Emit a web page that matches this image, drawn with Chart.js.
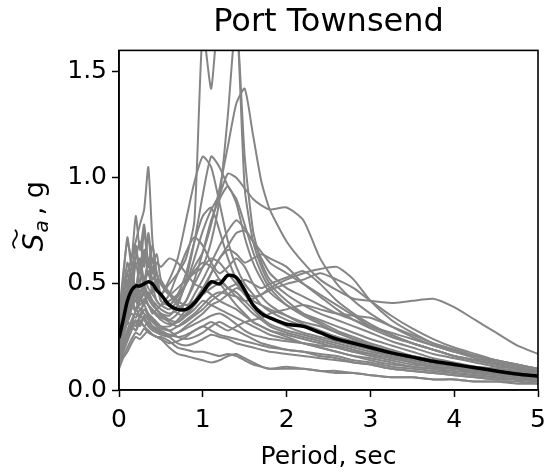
<!DOCTYPE html>
<html>
<head>
<meta charset="utf-8">
<script src="https://cdn.jsdelivr.net/npm/chart.js@4/dist/chart.umd.min.js"></script>
<style>
html,body{margin:0;padding:0;background:#fff;}
#wrap{width:548px;height:472px;}
</style>
</head>
<body>
<div id="wrap"><canvas id="c" width="548" height="472"></canvas></div>
<script>
// Periods (sec) shared by every spectrum
const periods = [0,0.05,0.1,0.15,0.2,0.25,0.3,0.35,0.4,0.45,0.5,0.6,0.7,0.8,0.9,1.0,1.1,1.2,1.3,1.4,1.5,1.6,1.7,1.8,2.0,2.2,2.4,2.6,2.8,3.0,3.25,3.5,3.75,4.0,4.25,4.5,4.75,5.0];

// Individual ground-motion spectra (Sa, g)
const rec01 = [0.22,0.34,0.42,0.52,0.44,0.58,0.48,0.62,0.52,0.55,0.45,0.50,0.55,0.62,0.80,1.70,1.42,1.85,1.95,1.80,0.95,0.70,0.58,0.50,0.42,0.36,0.32,0.28,0.25,0.22,0.19,0.16,0.14,0.12,0.10,0.09,0.08,0.07];
const rec02 = [0.18,0.25,0.32,0.30,0.38,0.35,0.42,0.40,0.36,0.38,0.40,0.42,0.45,0.50,0.58,0.65,0.78,0.95,1.15,1.35,1.42,1.20,0.98,0.85,0.70,0.60,0.52,0.47,0.43,0.42,0.41,0.42,0.43,0.39,0.33,0.27,0.21,0.17];
const rec03 = [0.20,0.28,0.35,0.42,0.38,0.45,0.50,0.44,0.48,0.42,0.40,0.38,0.42,0.50,0.62,0.75,0.85,0.92,1.02,1.00,0.95,0.90,0.87,0.85,0.86,0.80,0.62,0.50,0.42,0.36,0.30,0.25,0.21,0.18,0.15,0.13,0.11,0.09];
const rec04 = [0.25,0.38,0.52,0.44,0.60,0.50,0.66,0.54,0.58,0.48,0.45,0.52,0.62,0.80,0.98,1.10,1.05,0.88,0.70,0.58,0.50,0.45,0.40,0.37,0.33,0.30,0.27,0.25,0.22,0.20,0.17,0.15,0.13,0.11,0.10,0.09,0.08,0.07];
const rec05 = [0.20,0.28,0.36,0.42,0.48,0.44,0.40,0.46,0.42,0.38,0.36,0.35,0.40,0.52,0.70,0.92,1.10,1.05,0.96,0.90,0.78,0.65,0.55,0.48,0.40,0.35,0.31,0.27,0.24,0.21,0.18,0.15,0.13,0.11,0.10,0.08,0.07,0.06];
const rec06 = [0.30,0.45,0.55,0.62,0.70,0.78,0.85,1.05,0.70,0.55,0.50,0.45,0.40,0.38,0.40,0.45,0.48,0.50,0.45,0.40,0.36,0.32,0.30,0.28,0.25,0.22,0.20,0.18,0.16,0.14,0.12,0.11,0.10,0.08,0.07,0.06,0.05,0.05];
const rec07 = [0.35,0.55,0.70,0.62,0.82,0.66,0.78,0.60,0.68,0.55,0.50,0.45,0.48,0.52,0.55,0.58,0.62,0.60,0.55,0.50,0.45,0.42,0.40,0.38,0.35,0.32,0.30,0.27,0.24,0.21,0.18,0.16,0.14,0.12,0.10,0.09,0.08,0.07];
const rec08 = [0.15,0.22,0.28,0.32,0.30,0.35,0.33,0.30,0.28,0.27,0.26,0.25,0.27,0.30,0.33,0.36,0.40,0.42,0.45,0.48,0.46,0.44,0.45,0.48,0.52,0.55,0.57,0.58,0.52,0.42,0.33,0.27,0.22,0.19,0.16,0.13,0.11,0.09];
const rec09 = [0.10,0.15,0.18,0.22,0.25,0.24,0.26,0.28,0.26,0.25,0.24,0.20,0.17,0.16,0.15,0.14,0.13,0.14,0.16,0.17,0.15,0.13,0.11,0.10,0.11,0.10,0.09,0.08,0.08,0.07,0.06,0.06,0.05,0.05,0.04,0.04,0.04,0.03];
const rec10 = [0.13,0.20,0.25,0.30,0.28,0.33,0.30,0.32,0.30,0.28,0.27,0.25,0.22,0.21,0.22,0.24,0.26,0.25,0.24,0.22,0.21,0.20,0.19,0.18,0.17,0.16,0.15,0.14,0.13,0.12,0.10,0.09,0.08,0.07,0.06,0.05,0.05,0.04];
const rec11 = [0.22,0.30,0.40,0.45,0.42,0.50,0.47,0.43,0.40,0.38,0.35,0.32,0.30,0.32,0.35,0.38,0.42,0.45,0.48,0.50,0.52,0.50,0.48,0.50,0.53,0.56,0.50,0.42,0.36,0.31,0.26,0.22,0.19,0.16,0.14,0.12,0.10,0.09];
const rec12 = [0.18,0.26,0.34,0.40,0.37,0.42,0.45,0.40,0.38,0.36,0.34,0.33,0.36,0.42,0.52,0.65,0.80,0.90,0.96,0.88,0.72,0.60,0.52,0.46,0.40,0.36,0.33,0.30,0.27,0.24,0.21,0.18,0.15,0.13,0.11,0.10,0.09,0.08];
const rec13 = [0.24,0.40,0.48,0.58,0.46,0.62,0.52,0.60,0.50,0.52,0.42,0.40,0.45,0.55,0.70,0.82,0.86,0.75,0.62,0.52,0.45,0.40,0.37,0.34,0.30,0.27,0.25,0.23,0.21,0.19,0.16,0.14,0.12,0.11,0.09,0.08,0.07,0.06];
const rec14 = [0.20,0.28,0.35,0.40,0.45,0.42,0.46,0.44,0.40,0.38,0.36,0.33,0.32,0.35,0.40,0.46,0.55,0.62,0.68,0.74,0.75,0.70,0.62,0.55,0.48,0.44,0.40,0.36,0.33,0.30,0.27,0.24,0.21,0.18,0.16,0.14,0.12,0.10];
const rec15 = [0.16,0.22,0.28,0.33,0.36,0.34,0.38,0.35,0.33,0.31,0.30,0.28,0.25,0.24,0.25,0.27,0.30,0.32,0.30,0.28,0.26,0.24,0.22,0.21,0.19,0.18,0.17,0.16,0.14,0.13,0.11,0.10,0.09,0.08,0.07,0.06,0.05,0.05];
const rec16 = [0.28,0.45,0.60,0.52,0.68,0.56,0.62,0.72,0.55,0.60,0.58,0.62,0.60,0.55,0.50,0.48,0.45,0.42,0.40,0.38,0.35,0.32,0.30,0.28,0.26,0.24,0.22,0.20,0.18,0.16,0.14,0.12,0.11,0.10,0.09,0.08,0.07,0.06];
const rec17 = [0.20,0.30,0.38,0.45,0.50,0.46,0.52,0.48,0.45,0.42,0.40,0.45,0.55,0.65,0.72,0.68,0.60,0.55,0.58,0.62,0.58,0.50,0.44,0.40,0.35,0.31,0.28,0.25,0.23,0.21,0.18,0.16,0.14,0.12,0.11,0.10,0.09,0.08];
const rec18 = [0.14,0.20,0.26,0.30,0.28,0.32,0.30,0.28,0.26,0.25,0.24,0.22,0.23,0.25,0.28,0.30,0.32,0.30,0.28,0.30,0.32,0.33,0.34,0.36,0.38,0.40,0.38,0.36,0.35,0.34,0.30,0.26,0.22,0.19,0.16,0.14,0.12,0.10];
const rec19 = [0.32,0.52,0.72,0.58,0.66,0.55,0.75,0.58,0.62,0.48,0.45,0.40,0.36,0.35,0.38,0.42,0.40,0.38,0.36,0.34,0.32,0.30,0.28,0.26,0.24,0.22,0.20,0.18,0.16,0.15,0.13,0.11,0.10,0.09,0.08,0.07,0.06,0.05];
const rec20 = [0.18,0.25,0.32,0.38,0.42,0.38,0.40,0.36,0.34,0.32,0.30,0.30,0.33,0.38,0.45,0.52,0.60,0.68,0.75,0.80,0.76,0.70,0.65,0.60,0.55,0.50,0.45,0.40,0.35,0.30,0.26,0.22,0.19,0.16,0.14,0.12,0.10,0.09];
const rec21 = [0.12,0.18,0.23,0.28,0.32,0.30,0.34,0.31,0.29,0.28,0.27,0.26,0.25,0.26,0.28,0.30,0.28,0.26,0.25,0.24,0.23,0.22,0.21,0.20,0.19,0.18,0.16,0.15,0.13,0.12,0.10,0.09,0.08,0.07,0.06,0.05,0.05,0.04];
const rec22 = [0.22,0.30,0.36,0.42,0.46,0.42,0.48,0.45,0.42,0.40,0.38,0.36,0.38,0.42,0.50,0.58,0.70,0.90,1.30,1.75,1.10,0.75,0.60,0.52,0.45,0.40,0.36,0.33,0.30,0.27,0.23,0.20,0.17,0.15,0.13,0.11,0.10,0.08];
const rec23 = [0.18,0.26,0.32,0.36,0.34,0.38,0.36,0.34,0.32,0.30,0.29,0.28,0.30,0.33,0.36,0.40,0.44,0.46,0.45,0.44,0.42,0.43,0.45,0.47,0.50,0.52,0.55,0.52,0.48,0.42,0.35,0.29,0.24,0.20,0.17,0.14,0.12,0.10];
const rec24 = [0.26,0.42,0.55,0.48,0.62,0.70,0.58,0.74,0.60,0.64,0.52,0.46,0.42,0.40,0.42,0.46,0.50,0.52,0.48,0.44,0.40,0.36,0.33,0.30,0.27,0.25,0.23,0.21,0.19,0.17,0.15,0.13,0.11,0.10,0.09,0.08,0.07,0.06];
const rec25 = [0.15,0.21,0.26,0.30,0.33,0.31,0.35,0.33,0.30,0.29,0.28,0.26,0.27,0.29,0.31,0.33,0.35,0.36,0.34,0.31,0.28,0.26,0.25,0.24,0.23,0.22,0.21,0.20,0.18,0.17,0.15,0.13,0.11,0.10,0.08,0.07,0.06,0.05];
const rec26 = [0.22,0.36,0.46,0.55,0.48,0.58,0.50,0.56,0.46,0.50,0.42,0.40,0.44,0.50,0.56,0.60,0.58,0.52,0.48,0.46,0.42,0.38,0.34,0.31,0.28,0.26,0.24,0.22,0.20,0.18,0.16,0.14,0.12,0.11,0.10,0.08,0.07,0.06];
const rec27 = [0.11,0.16,0.20,0.24,0.27,0.26,0.29,0.27,0.26,0.25,0.25,0.23,0.20,0.19,0.18,0.18,0.17,0.16,0.17,0.16,0.14,0.12,0.11,0.10,0.10,0.10,0.09,0.09,0.08,0.07,0.06,0.06,0.05,0.05,0.04,0.04,0.03,0.03];
const rec28 = [0.20,0.28,0.35,0.40,0.44,0.40,0.43,0.40,0.37,0.35,0.33,0.31,0.32,0.36,0.42,0.48,0.55,0.62,0.66,0.64,0.60,0.62,0.64,0.62,0.58,0.50,0.44,0.38,0.33,0.29,0.25,0.22,0.19,0.16,0.14,0.12,0.10,0.08];

// Mean spectrum (black line)
const meanSa = [0.245,0.33,0.42,0.47,0.49,0.49,0.50,0.51,0.50,0.47,0.45,0.40,0.38,0.38,0.41,0.46,0.51,0.50,0.54,0.53,0.47,0.40,0.36,0.34,0.31,0.30,0.27,0.24,0.22,0.20,0.175,0.155,0.135,0.12,0.105,0.09,0.075,0.065];

// Axis ticks and texts
const xTicks = [0,1,2,3,4,5];
const yTicks = [0.0,0.5,1.0,1.5];
const titleText = 'Port Townsend';
const xLabel = 'Period, sec';
const yLabelParts = ['S', 'a', ', g']; // tilde-S, subscript a, ", g"

const records = [rec01,rec02,rec03,rec04,rec05,rec06,rec07,rec08,rec09,rec10,rec11,rec12,rec13,rec14,rec15,rec16,rec17,rec18,rec19,rec20,rec21,rec22,rec23,rec24,rec25,rec26,rec27,rec28];

const toPts = arr => periods.map((t, i) => ({x: t, y: arr[i]}));

const datasets = records.map((r, k) => ({
  label: 'Record ' + (k + 1),
  data: toPts(r),
  borderColor: '#858585',
  borderWidth: 2,
  pointRadius: 0,
  tension: 0.2,
  fill: false,
  order: 2
}));
datasets.push({
  label: 'Mean',
  data: toPts(meanSa),
  borderColor: '#000000',
  borderWidth: 3.5,
  pointRadius: 0,
  tension: 0.3,
  fill: false,
  order: 1
});

const FONT = "'DejaVu Sans', sans-serif";

const framePlugin = {
  id: 'frame',
  afterDraw(chart) {
    const a = chart.chartArea, ctx = chart.ctx;
    ctx.save();
    ctx.strokeStyle = '#000';
    ctx.lineWidth = 1.6;
    ctx.strokeRect(a.left, a.top, a.right - a.left, a.bottom - a.top);
    ctx.restore();
  }
};

// y-axis label drawn like matplotlib mathtext: italic S with wide tilde, italic subscript a, then ", g"
const yLabelPlugin = {
  id: 'ylabel',
  afterDraw(chart) {
    const ctx = chart.ctx;
    const a = chart.chartArea;
    ctx.save();
    ctx.fillStyle = '#000';
    ctx.textBaseline = 'alphabetic';
    ctx.textAlign = 'left';
    ctx.font = "italic 28px 'DejaVu Sans'";
    const wS = ctx.measureText(yLabelParts[0]).width;
    ctx.font = "italic 20px 'DejaVu Sans'";
    const wA = ctx.measureText(yLabelParts[1]).width;
    ctx.font = "27px 'DejaVu Sans'";
    const wG = ctx.measureText(yLabelParts[2]).width;
    const gapA = 1, gapG = 5;
    const total = wS + gapA + wA + gapG + wG;
    const cy = (a.top + a.bottom) / 2 - 4;
    ctx.translate(43, cy + total / 2);
    ctx.rotate(-Math.PI / 2);
    ctx.font = "italic 28px 'DejaVu Sans'";
    ctx.fillText(yLabelParts[0], 0, 0);
    // wide tilde over S
    ctx.beginPath();
    ctx.lineWidth = 1.7;
    ctx.strokeStyle = '#000';
    const tx0 = 3, tx1 = wS + 4, ty = -28;
    for (let i = 0; i <= 20; i++) {
      const u = i / 20;
      const px = tx0 + (tx1 - tx0) * u;
      const py = ty - 2 * Math.sin(u * 2 * Math.PI);
      if (i === 0) ctx.moveTo(px, py); else ctx.lineTo(px, py);
    }
    ctx.stroke();
    ctx.font = "italic 20px 'DejaVu Sans'";
    ctx.fillText(yLabelParts[1], wS + gapA, 5);
    ctx.font = "27px 'DejaVu Sans'";
    ctx.fillText(yLabelParts[2], wS + gapA + wA + gapG, 0);
    ctx.restore();
  }
};

new Chart(document.getElementById('c'), {
  type: 'line',
  data: { datasets },
  options: {
    responsive: false,
    animation: false,
    devicePixelRatio: 1,
    layout: { padding: { left: 0, right: 10, top: 0, bottom: 0 } },
    plugins: {
      legend: { display: false },
      tooltip: { enabled: false },
      title: {
        display: true,
        fullSize: false,
        text: titleText,
        color: '#000',
        font: { family: FONT, size: 32, weight: 'normal' },
        padding: { top: 3, bottom: 9 }
      }
    },
    scales: {
      x: {
        type: 'linear',
        min: 0, max: 5,
        afterBuildTicks: ax => { ax.ticks = xTicks.map(v => ({value: v})); },
        afterFit: s => { s.height = 82; s.paddingLeft = 0; s.paddingRight = 0; },
        ticks: {
          color: '#000',
          font: { family: FONT, size: 25 },
          padding: 8,
          maxRotation: 0,
          callback: v => String(v)
        },
        grid: { drawOnChartArea: false, drawTicks: true, tickLength: 7, color: '#000', tickWidth: 1.5 },
        border: { display: true, color: '#000', width: 1.6 },
        title: {
          display: true,
          text: xLabel,
          color: '#000',
          font: { family: FONT, size: 25 },
          padding: { top: 0, bottom: 0 }
        }
      },
      y: {
        type: 'linear',
        min: 0, max: 1.6,
        afterBuildTicks: ax => { ax.ticks = yTicks.map(v => ({value: v})); },
        afterFit: s => { s.width = 119; s.paddingTop = 0; s.paddingBottom = 0; },
        ticks: {
          color: '#000',
          font: { family: FONT, size: 25 },
          padding: 5,
          callback: v => v.toFixed(1)
        },
        grid: { drawOnChartArea: false, drawTicks: true, tickLength: 7, color: '#000', tickWidth: 1.5 },
        border: { display: true, color: '#000', width: 1.6 },
        title: { display: false }
      }
    }
  },
  plugins: [framePlugin, yLabelPlugin]
});
</script>
</body>
</html>
